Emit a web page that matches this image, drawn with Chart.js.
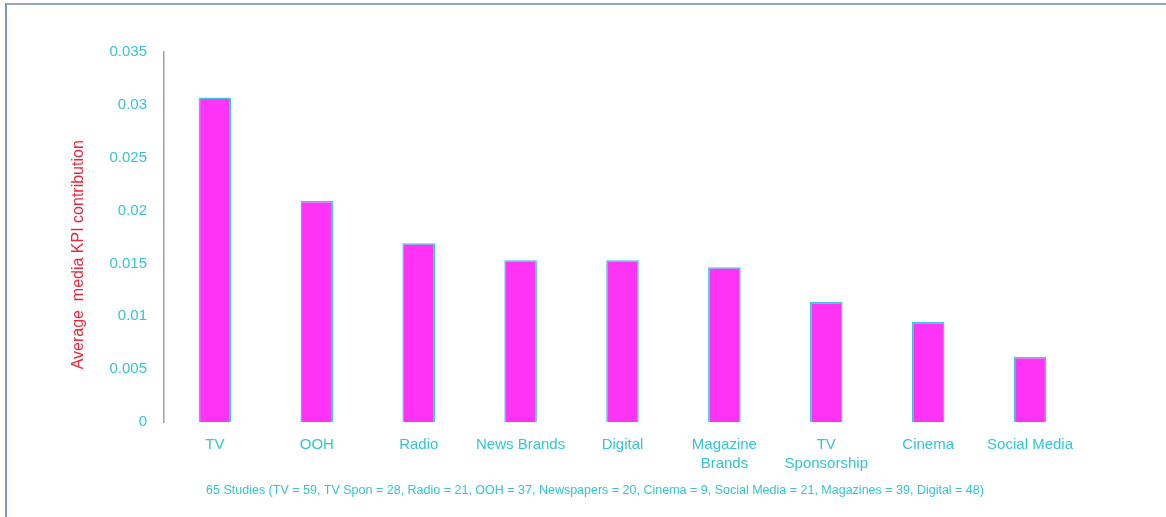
<!DOCTYPE html>
<html>
<head>
<meta charset="utf-8">
<script src="https://cdn.jsdelivr.net/npm/chart.js@4"></script>
<style>
  html, body { margin: 0; padding: 0; background: #fff; }
  #wrap { position: relative; width: 1166px; height: 517px; overflow: hidden; }
  #frame { position: absolute; left: 5px; top: 3px; width: 1300px; height: 600px;
           border-top: 2px solid #94a6c4; border-left: 2px solid #7f97c0; }
  #myChart { position: absolute; left: 0; top: 0; }
</style>
</head>
<body>
<div id="wrap">
  <div id="frame"></div>
  <canvas id="myChart" width="1166" height="517"></canvas>
</div>
<script>
// media channels and their average KPI contribution
const categories = ["TV", "OOH", "Radio", "News Brands", "Digital",
  ["Magazine", "Brands"], ["TV", "Sponsorship"], "Cinema", "Social Media"]
const contribution = [0.0307, 0.0209, 0.0169, 0.0153, 0.0153, 0.01465, 0.01135, 0.00945, 0.00615]
const yTicks = [0, 0.005, 0.01, 0.015, 0.02, 0.025, 0.03, 0.035]
const footnote = "65 Studies (TV = 59, TV Spon = 28, Radio = 21, OOH = 37, Newspapers = 20, Cinema = 9, Social Media = 21, Magazines = 39, Digital = 48)"

const cyan = "#35c4d0"

// footnote line under the axis labels
const footnotePlugin = {
  id: "footnote",
  afterDraw(chart) {
    const c = chart.ctx
    c.save()
    c.font = "12.5px 'Liberation Sans Narrow', 'Liberation Sans', sans-serif"
    c.fillStyle = cyan
    c.textAlign = "center"
    c.textBaseline = "middle"
    c.fillText(footnote, 595, 491)
    c.restore()
  },
}

const ctx = document.getElementById("myChart").getContext("2d")
const myChart = new Chart(ctx, {
  type: "bar",
  data: {
    labels: categories,
    datasets: [
      {
        data: contribution,
        backgroundColor: "#ff33f5",
        borderColor: "#3cc8d8",
        borderWidth: 1.5,
        categoryPercentage: 1,
        barPercentage: 0.32,
      },
    ],
  },
  options: {
    responsive: false,
    animation: false,
    layout: { padding: { top: 52, right: 85, left: 0, bottom: 0 } },
    plugins: {
      legend: { display: false },
      tooltip: { enabled: false },
    },
    scales: {
      x: {
        grid: { display: false },
        border: { display: false },
        ticks: {
          color: cyan,
          font: { family: "'Liberation Sans', sans-serif", size: 15, lineHeight: 1.3 },
          padding: 5,
          maxRotation: 0,
          autoSkip: false,
        },
        afterFit(scale) { scale.height = 95 },
      },
      y: {
        min: 0,
        max: 0.035,
        afterBuildTicks(scale) { scale.ticks = yTicks.map((v) => ({ value: v })) },
        grid: { display: false },
        border: { display: true, color: "#a0a0a0", width: 1.5 },
        ticks: {
          color: cyan,
          font: { family: "'Liberation Sans', sans-serif", size: 15 },
          padding: 9,
          callback: (v) => String(parseFloat(v.toFixed(3))),
        },
        title: {
          display: true,
          text: "Average  media KPI contribution        ",
          color: "#e8283c",
          font: { family: "'Liberation Sans', sans-serif", size: 16 },
          padding: { top: 69, bottom: 0 },
        },
        afterFit(scale) { scale.width = 164 },
      },
    },
  },
  plugins: [footnotePlugin],
})
</script>
</body>
</html>
